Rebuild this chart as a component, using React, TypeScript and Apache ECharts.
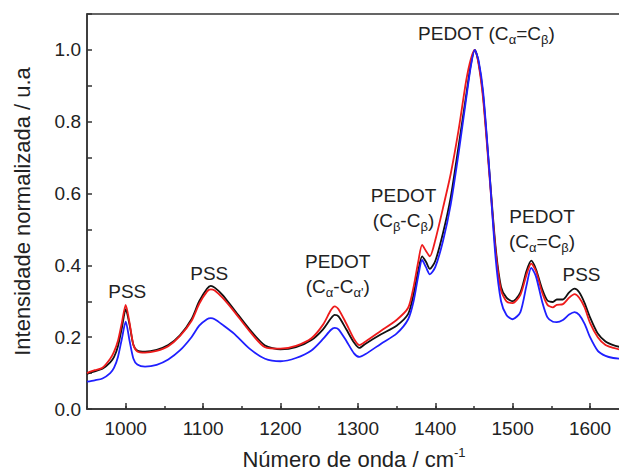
import React, { useEffect, useRef } from "react";
import * as echarts from "echarts";

const wavenumbers = [
  950, 960, 970, 980, 985, 990, 995, 1000, 1005, 1010,
  1015, 1025, 1040, 1055, 1070, 1085, 1095, 1105, 1110, 1115,
  1125, 1140, 1160, 1180, 1200, 1220, 1240, 1255, 1265, 1270,
  1275, 1285, 1295, 1302, 1310, 1330, 1350, 1365, 1372, 1378,
  1383, 1388, 1393, 1400, 1410, 1420, 1430, 1440, 1446, 1451,
  1456, 1462, 1470, 1478, 1485, 1492, 1500, 1510, 1518, 1524,
  1530, 1538, 1545, 1552, 1557, 1565, 1573, 1580, 1586, 1593,
  1600, 1610, 1620, 1630, 1640,
];

const blackSpectrum = [
  0.098, 0.105, 0.112, 0.13, 0.145, 0.175, 0.225, 0.278, 0.235, 0.178,
  0.163, 0.16, 0.165, 0.178, 0.205, 0.25, 0.3, 0.335, 0.343, 0.338,
  0.318, 0.277, 0.222, 0.177, 0.166, 0.172, 0.192, 0.222, 0.252, 0.262,
  0.258, 0.222, 0.185, 0.17, 0.182, 0.208, 0.232, 0.265, 0.32, 0.385,
  0.425, 0.41, 0.39, 0.412, 0.49, 0.59, 0.73, 0.875, 0.96, 1.0,
  0.965, 0.87, 0.66, 0.45, 0.34, 0.31, 0.3, 0.325, 0.385, 0.413,
  0.39, 0.335, 0.302, 0.298, 0.305, 0.305, 0.325, 0.335, 0.325, 0.295,
  0.255, 0.21, 0.188, 0.178, 0.172,
];

const redSpectrum = [
  0.1, 0.108, 0.115, 0.14, 0.16, 0.19, 0.24, 0.29, 0.24, 0.178,
  0.16, 0.157, 0.162, 0.175, 0.203, 0.245, 0.293, 0.327, 0.333, 0.33,
  0.31, 0.272, 0.217, 0.172, 0.168, 0.176, 0.197, 0.235, 0.275, 0.286,
  0.278, 0.238, 0.195, 0.178, 0.188, 0.218, 0.248, 0.282, 0.34, 0.41,
  0.457, 0.44, 0.425, 0.47, 0.56, 0.655, 0.775, 0.915, 0.975, 1.0,
  0.96, 0.86, 0.65, 0.44, 0.33, 0.3, 0.295, 0.318, 0.375, 0.405,
  0.385, 0.325, 0.29, 0.283, 0.29, 0.292, 0.31, 0.32, 0.31, 0.283,
  0.24, 0.2, 0.178, 0.17, 0.165,
];

const blueSpectrum = [
  0.076, 0.08, 0.085, 0.1, 0.115, 0.145, 0.195, 0.243, 0.19, 0.14,
  0.124, 0.118, 0.123, 0.138, 0.163, 0.2, 0.232, 0.25, 0.253, 0.25,
  0.235, 0.21, 0.168, 0.14, 0.133, 0.142, 0.163, 0.195, 0.22, 0.226,
  0.222, 0.19, 0.155, 0.145, 0.153, 0.182, 0.21, 0.25, 0.3, 0.37,
  0.415, 0.395, 0.375, 0.395, 0.468, 0.57, 0.71, 0.865, 0.955, 1.0,
  0.97, 0.88, 0.66, 0.42, 0.3, 0.262, 0.25, 0.27, 0.345, 0.393,
  0.37, 0.3, 0.255, 0.243, 0.242, 0.248, 0.263, 0.27, 0.262, 0.237,
  0.2, 0.162, 0.148, 0.142, 0.14,
];

const majorXTicks = [1000, 1100, 1200, 1300, 1400, 1500, 1600];

const annotationTexts = [
  "PSS",
  "PSS",
  "PEDOT\n(C{s|α}-C{s|α'})",
  "PEDOT\n(C{s|β}-C{s|β})",
  "PEDOT (C{s|α}=C{s|β})",
  "PEDOT\n(C{s|α}=C{s|β})",
  "PSS",
];
const annotationX = [1002, 1108, 1274, 1359, 1466, 1538, 1589];
const annotationY = [0.327, 0.378, 0.377, 0.56, 1.046, 0.5, 0.374];

const FONT = "Liberation Sans, Arial, Helvetica, sans-serif";
const TEXT_COLOR = "#222";
const AXIS_COLOR = "#333";

export default function App() {
  const ref = useRef<HTMLDivElement>(null);

  useEffect(() => {
    if (!ref.current) return;
    const chart = echarts.init(ref.current, undefined, { renderer: "svg" });

    const pairs = (ys: number[]) => wavenumbers.map((x, i) => [x, ys[i]]);

    const subRich = {
      s: { fontSize: 13, lineHeight: 8, verticalAlign: "bottom", fontFamily: FONT, color: TEXT_COLOR },
    };

    const lineSeries = (name: string, ys: number[], color: string, extra: any = {}) => ({
      name,
      type: "line",
      data: pairs(ys),
      showSymbol: false,
      symbol: "none",
      smooth: 0.25,
      lineStyle: { color, width: 1.8 },
      itemStyle: { color },
      z: 2,
      ...extra,
    });

    chart.setOption({
      animation: false,
      grid: {
        left: 87,
        top: 14,
        right: -2,
        bottom: 67,
        show: true,
        borderColor: AXIS_COLOR,
        borderWidth: 1.5,
        outerBoundsMode: "none",
      },
      xAxis: [
        {
          type: "value",
          min: 950,
          max: 1640,
          interval: 50,
          axisLine: { show: true, lineStyle: { color: AXIS_COLOR, width: 1.5 } },
          axisTick: { show: true, inside: true, length: 3, lineStyle: { color: AXIS_COLOR, width: 1.5 } },
          splitLine: { show: false },
          axisLabel: {
            show: true,
            color: TEXT_COLOR,
            fontSize: 19,
            fontFamily: FONT,
            margin: 10,
            formatter: (v: number) => (Math.round(v) % 100 === 0 ? String(Math.round(v)) : ""),
          },
          name: "{m|Número de onda / cm}{sup|-1}",
          nameLocation: "middle",
          nameGap: 37,
          nameTextStyle: {
            color: TEXT_COLOR,
            fontSize: 22,
            fontFamily: FONT,
            rich: {
              m: { fontSize: 22, lineHeight: 26, fontFamily: FONT, color: TEXT_COLOR },
              sup: { fontSize: 13, lineHeight: 16, verticalAlign: "top", fontFamily: FONT, color: TEXT_COLOR },
            },
          },
        },
        {
          type: "value",
          min: 950,
          max: 1640,
          position: "bottom",
          axisLine: { show: false },
          axisTick: {
            show: true,
            inside: true,
            length: 6,
            customValues: majorXTicks,
            lineStyle: { color: AXIS_COLOR, width: 1.5 },
          },
          axisLabel: { show: false },
          splitLine: { show: false },
        },
      ],
      yAxis: {
        type: "value",
        min: 0,
        max: 1.1,
        interval: 0.1,
        axisLine: { show: true, lineStyle: { color: AXIS_COLOR, width: 1.5 } },
        axisTick: { show: true, inside: true, length: 5, lineStyle: { color: AXIS_COLOR, width: 1.5 } },
        splitLine: { show: false },
        axisLabel: {
          color: TEXT_COLOR,
          fontSize: 19,
          fontFamily: FONT,
          margin: 6,
          formatter: (v: number) => {
            const k = Math.round(v * 10);
            return k % 2 === 0 && k <= 10 ? (k / 10).toFixed(1) : "";
          },
        },
        name: "Intensidade normalizada / u.a",
        nameLocation: "middle",
        nameGap: 54,
        nameTextStyle: { color: TEXT_COLOR, fontSize: 22, fontFamily: FONT },
      },
      series: [
        lineSeries("black", blackSpectrum, "#111111"),
        lineSeries("red", redSpectrum, "#ee1b1b"),
        lineSeries("blue", blueSpectrum, "#1f1fff", {
          markPoint: {
            silent: true,
            symbol: "circle",
            symbolSize: 0,
            itemStyle: { color: "transparent" },
            label: {
              show: true,
              position: "inside",
              color: TEXT_COLOR,
              fontSize: 19,
              fontFamily: FONT,
              lineHeight: 25,
              align: "center",
              rich: subRich,
            },
            data: annotationTexts.map((t, i) => ({
              coord: [annotationX[i], annotationY[i]],
              value: 0,
              label: { formatter: t },
            })),
          },
        }),
      ],
    });

    return () => chart.dispose();
  }, []);

  return (
    <div
      ref={ref}
      style={{ position: "absolute", left: 0, top: 0, width: 619, height: 476, background: "#fff" }}
    />
  );
}
